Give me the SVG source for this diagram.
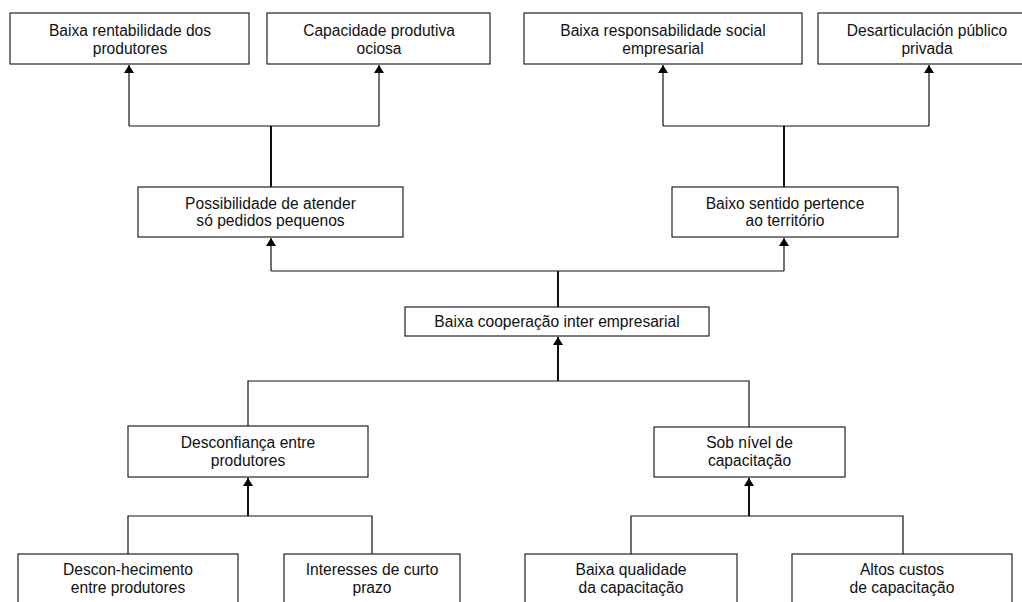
<svg xmlns="http://www.w3.org/2000/svg" width="1022" height="602" viewBox="0 0 1022 602">
  <style>
    .box { fill: #ffffff; stroke: #222222; stroke-width: 1.2; }
    .lbl { font-family: "Liberation Sans", Arial, sans-serif; font-size: 15.6px; fill: #111111; text-anchor: middle; }
    .wire { fill: none; stroke: #111111; stroke-width: 1.2; }
    .trunk { fill: none; stroke: #111111; stroke-width: 2; }
  </style>
  <defs>
    <marker id="tip" viewBox="0 0 8 10" refX="8" refY="5" markerWidth="8" markerHeight="10" markerUnits="userSpaceOnUse" orient="auto">
      <path d="M0,0 L8,5 L0,10 Z" fill="#000000"/>
    </marker>
  </defs>
  <rect width="1022" height="602" fill="#ffffff"/>

  <g id="connectors">
    <!-- upper-left fork -->
    <path class="trunk" d="M271,187 V126"/>
    <path class="wire" d="M129,126 H379"/>
    <path class="wire" d="M129,126 V65" marker-end="url(#tip)"/>
    <path class="wire" d="M379,126 V65" marker-end="url(#tip)"/>
    <!-- upper-right fork -->
    <path class="trunk" d="M784,187 V126"/>
    <path class="wire" d="M663,126 H929"/>
    <path class="wire" d="M663,126 V65" marker-end="url(#tip)"/>
    <path class="wire" d="M929,126 V65" marker-end="url(#tip)"/>
    <!-- central fork -->
    <path class="trunk" d="M558,307 V271"/>
    <path class="wire" d="M271,271 H784"/>
    <path class="wire" d="M271,271 V238" marker-end="url(#tip)"/>
    <path class="wire" d="M784,271 V238" marker-end="url(#tip)"/>
    <!-- causes merging into the core problem -->
    <path class="wire" d="M248,426 V381 H749 V427"/>
    <path class="trunk" d="M558,381 V337" marker-end="url(#tip)"/>
    <!-- lower-left merge -->
    <path class="wire" d="M128,554 V516 H372 V554"/>
    <path class="trunk" d="M248,516 V478" marker-end="url(#tip)"/>
    <!-- lower-right merge -->
    <path class="wire" d="M631,554 V516 H903 V554"/>
    <path class="trunk" d="M749,516 V478" marker-end="url(#tip)"/>
  </g>

  <g id="n-rentabilidade">
    <rect class="box" x="10" y="13" width="239" height="51"/>
    <text class="lbl" x="130" y="36">Baixa rentabilidade dos<tspan x="130" dy="17.5">produtores</tspan></text>
  </g>
  <g id="n-capacidade">
    <rect class="box" x="267" y="13" width="223" height="51"/>
    <text class="lbl" x="379" y="36">Capacidade produtiva<tspan x="379" dy="17.5">ociosa</tspan></text>
  </g>
  <g id="n-responsabilidade">
    <rect class="box" x="524" y="13" width="278" height="51"/>
    <text class="lbl" x="663" y="36">Baixa responsabilidade social<tspan x="663" dy="17.5">empresarial</tspan></text>
  </g>
  <g id="n-desarticulacion">
    <rect class="box" x="818" y="13" width="218" height="51"/>
    <text class="lbl" x="927" y="36">Desarticulación público<tspan x="927" dy="17.5">privada</tspan></text>
  </g>

  <g id="n-pedidos">
    <rect class="box" x="138" y="187" width="265" height="50"/>
    <text class="lbl" x="270.5" y="208.5">Possibilidade de atender<tspan x="270.5" dy="17.5">só pedidos pequenos</tspan></text>
  </g>
  <g id="n-territorio">
    <rect class="box" x="672" y="187" width="226" height="50"/>
    <text class="lbl" x="785" y="208.5">Baixo sentido pertence<tspan x="785" dy="17.5">ao território</tspan></text>
  </g>

  <g id="n-cooperacao">
    <rect class="box" x="405" y="307" width="304" height="29"/>
    <text class="lbl" x="557" y="327">Baixa cooperação inter empresarial</text>
  </g>

  <g id="n-desconfianca">
    <rect class="box" x="128" y="426" width="240" height="51"/>
    <text class="lbl" x="248" y="448">Desconfiança entre<tspan x="248" dy="17.5">produtores</tspan></text>
  </g>
  <g id="n-capacitacao">
    <rect class="box" x="654" y="427" width="191" height="50"/>
    <text class="lbl" x="749.5" y="448">Sob nível de<tspan x="749.5" dy="17.5">capacitação</tspan></text>
  </g>

  <g id="n-desconhecimento">
    <rect class="box" x="18" y="554" width="220" height="60"/>
    <text class="lbl" x="128" y="575">Descon-hecimento<tspan x="128" dy="17.5">entre produtores</tspan></text>
  </g>
  <g id="n-interesses">
    <rect class="box" x="284" y="554" width="176" height="60"/>
    <text class="lbl" x="372" y="575">Interesses de curto<tspan x="372" dy="17.5">prazo</tspan></text>
  </g>
  <g id="n-qualidade">
    <rect class="box" x="525" y="554" width="212" height="60"/>
    <text class="lbl" x="631" y="575">Baixa qualidade<tspan x="631" dy="17.5">da capacitação</tspan></text>
  </g>
  <g id="n-custos">
    <rect class="box" x="792" y="554" width="220" height="60"/>
    <text class="lbl" x="902" y="575">Altos custos<tspan x="902" dy="17.5">de capacitação</tspan></text>
  </g>
</svg>
